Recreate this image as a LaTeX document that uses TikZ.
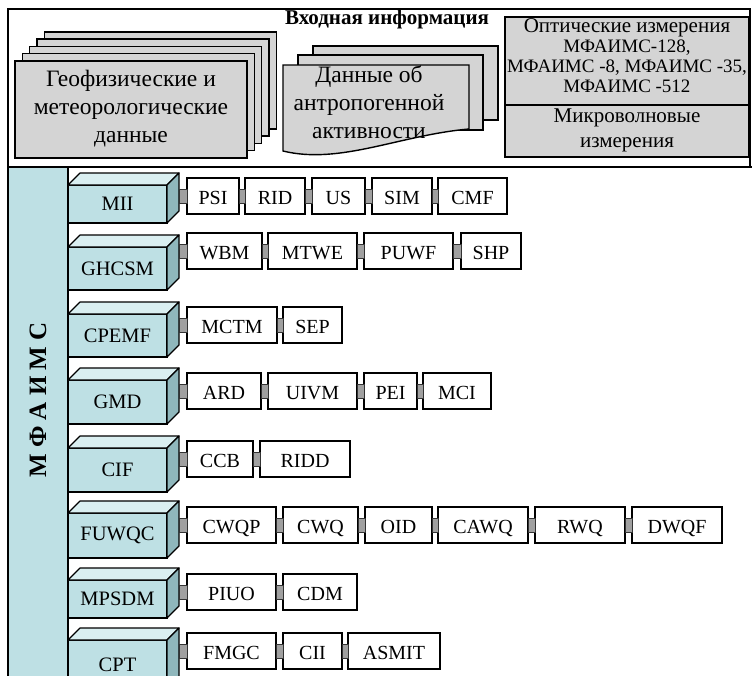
\documentclass[tikz,border=0pt]{standalone}
\usepackage{fontspec}
\setmainfont{Liberation Serif}
\usetikzlibrary{calc}
\definecolor{cyanF}{RGB}{190,224,228}
\definecolor{cyanT}{RGB}{218,239,241}
\definecolor{cyanS}{RGB}{143,183,188}
\definecolor{grayF}{RGB}{212,212,212}
\definecolor{connF}{RGB}{160,160,160}
\tikzset{
  graybox/.style={draw=black, line width=1.4pt, fill=grayF},
  itm/.style={draw=black, line width=1.2pt, fill=white, minimum height=36pt, inner sep=0pt, outer sep=0pt, text height=17pt, text depth=0pt, font=\fontsize{20}{20}\selectfont},
  conn/.style={draw=black!80, line width=0.6pt, fill=connF},
  front/.style={draw=black, line width=1.2pt, fill=cyanF, minimum width=99pt, inner sep=0pt, outer sep=0pt, font=\fontsize{20.5}{20}\selectfont},
  topf/.style={draw=black, line width=1.2pt, fill=cyanT, line join=round},
  sidef/.style={draw=black, line width=1.2pt, fill=cyanS, line join=round},
  bigtxt/.style={align=center, font=\fontsize{23.5}{28}\selectfont},
  rtxt/.style={align=center, font=\fontsize{21}{20}\selectfont},
}
\newcommand\itemrow[3]{%
  \foreach \t/\a/\b [count=\i, remember=\b as \lb (initially 179)] in {#3} {
    \node[itm, minimum width={(\b-\a)*1pt}, anchor=north west] (#1-\i) at (\a,#2) {\t};
    \path[conn] ($(#1-\i.west)+({\lb-\a},-7)$) rectangle ($(#1-\i.west)+(0,7)$);
  }}
\newcommand\cube[4]{%
  \node[front, minimum height={(#3-#2)*1pt}, anchor=north west] (#1) at (68,#2) {#4};
  \draw[topf] (#1.north west) -- ++(12,-12) -- ++(99,0) -- (#1.north east) -- cycle;
  \draw[sidef] (#1.north east) -- ++(12,-12) -- ++(0,{#3-#2}) -- (#1.south east) -- cycle;
}
\begin{document}
\begin{tikzpicture}[x=1pt,y=-1pt]
\useasboundingbox (0,0) rectangle (752,675);
\clip (0,0) rectangle (752,675);
\fill[white] (0,0) rectangle (752,675);
% top frame
\draw[line width=1.4pt] (8,9) rectangle (750,167);
\node[font=\bfseries\fontsize{21}{21}\selectfont] (title) at (387,19) {Входная информация};
% geophysical stack
\foreach \k in {4,3,2,1} {
  \draw[graybox] ({15+7.3*\k},{61-7.3*\k}) rectangle ++(232,97);
}
\node[graybox, minimum width=232pt, minimum height=97pt, inner sep=0pt, outer sep=0pt, anchor=north west] (geo) at (15,61) {};
\node[bigtxt] (geot) at (131,109) {Геофизические и\\метеорологические\\данные};
% anthropogenic document stack
\draw[graybox] (313,46) rectangle (498,120);
\draw[graybox] (298,55) rectangle (483,130);
\draw[graybox] (283,65) -- (469,65) -- (469,129) .. controls (400,135) and (340,165) .. (283,151) -- cycle;
\node[bigtxt] (anth) at (369,102) {Данные об\\антропогенной\\активности};
% measurements box
\node[graybox, minimum width=244pt, minimum height=88pt, inner sep=0pt, outer sep=0pt, anchor=north west] (opt) at (505,17) {};
\node[graybox, minimum width=244pt, minimum height=52pt, inner sep=0pt, outer sep=0pt, anchor=north west] (mw) at (505,105) {};
\node[rtxt] (optt) at (627,56) {Оптические измерения\\{\fontsize{19}{20}\selectfont МФАИМС-128,}\\{\fontsize{19}{20}\selectfont МФАИМС -8, МФАИМС -35,}\\{\fontsize{19}{20}\selectfont МФАИМС -512}};
\node[rtxt, font=\fontsize{21}{25}\selectfont] (mwt) at (627,130) {Микроволновые\\измерения};
% lower part
\path[draw=black, line width=1.4pt, fill=cyanF] (8,167) rectangle (68,690);
\draw[line width=2pt] (8,167) -- (752,167);
\node[rotate=90, font=\bfseries\fontsize{25}{25}\selectfont] (mfaims) at (38,400) {М Ф А И М С};
% modules
\cube{m1}{185}{223}{MII}
\cube{m2}{247}{290}{GHCSM}
\cube{m3}{314}{357}{CPEMF}
\cube{m4}{380}{424}{GMD}
\cube{m5}{448}{492}{CIF}
\cube{m6}{513}{558}{FUWQC}
\cube{m7}{580}{618}{MPSDM}
\cube{m8}{640}{690}{CPT}
% items
\itemrow{a}{178}{PSI/187/239, RID/245/305, US/312/365, SIM/372/432, CMF/438/507}
\itemrow{b}{233}{WBM/187/262, MTWE/268/357, PUWF/364/453, SHP/461/521}
\itemrow{c}{307}{MCTM/187/277, SEP/283/342}
\itemrow{d}{373}{ARD/187/261, UIVM/268/357, PEI/364/417, MCI/423/491}
\itemrow{e}{441}{CCB/187/253, RIDD/260/350}
\itemrow{f}{507}{CWQP/187/276, CWQ/283/358, OID/365/432, CAWQ/438/528, RWQ/535/625, DWQF/632/722}
\itemrow{g}{574}{PIUO/187/276, CDM/283/357}
\itemrow{h}{633}{FMGC/187/276, CII/283/342, ASMIT/348/440}
\end{tikzpicture}
\end{document}
